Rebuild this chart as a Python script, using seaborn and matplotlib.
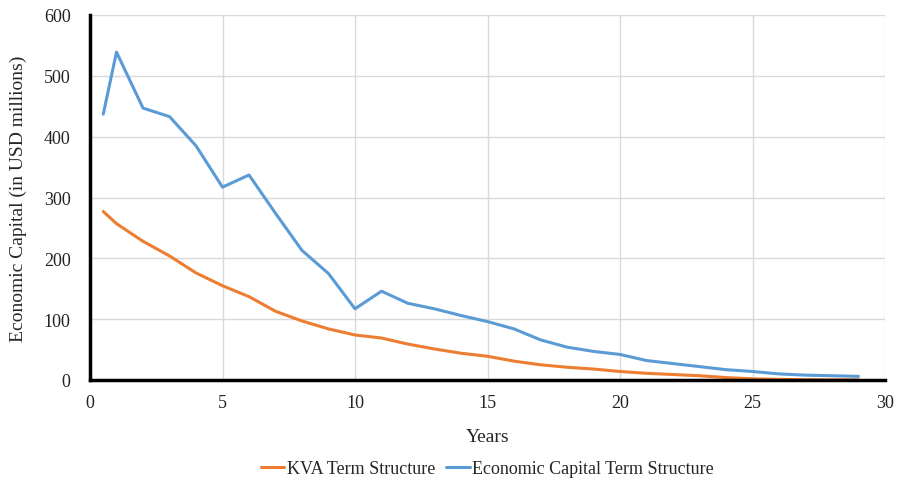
import numpy as np
import pandas as pd
import matplotlib
matplotlib.use("Agg")
import matplotlib.pyplot as plt
import seaborn as sns

# ── data ──
years = [0.5, 1, 2, 3, 4, 5, 6, 7, 8, 9, 10, 11, 12, 13, 14, 15, 16, 17, 18, 19,
         20, 21, 22, 23, 24, 25, 26, 27, 28, 29]
kva = [277, 257, 228, 204, 176, 155, 137, 113, 97, 84, 74, 69, 59, 51, 44, 39, 31, 25, 21, 18,
       14, 11, 9, 7, 4, 2, 1, 0.5, 0.3, 0.2]
econ_cap = [437, 539, 447, 433, 385, 317, 337, 274, 213, 175, 117, 146, 126, 117, 106, 96, 84, 66, 54, 47,
            42, 32, 27, 22, 17, 14, 10, 8, 7, 6]

SERIES = ["KVA Term Structure", "Economic Capital Term Structure"]
COLORS = ["#ED7D31", "#5B9BD5"]

df = pd.DataFrame({
    "Years": years * 2,
    "Value": kva + econ_cap,
    "Series": [SERIES[0]] * len(years) + [SERIES[1]] * len(years),
})

sns.set_style("white")
plt.rcParams["font.family"] = ["Liberation Serif", "DejaVu Serif"]

fig = plt.figure(figsize=(8.98, 4.85), dpi=100)
ax = fig.add_axes([90 / 898, 1 - 381 / 485, 795 / 898, 365 / 485])

sns.lineplot(data=df, x="Years", y="Value", hue="Series", hue_order=SERIES,
             palette=COLORS, linewidth=2.2, ax=ax)

ax.set_xlim(0, 30)
ax.set_ylim(0, 600)
ax.set_xticks(range(0, 31, 5))
ax.set_yticks(range(0, 601, 100))
ax.grid(True, color="#D9D9D9", linewidth=1)
ax.set_axisbelow(True)

for side in ["top", "right"]:
    ax.spines[side].set_visible(False)
for side in ["left", "bottom"]:
    ax.spines[side].set_color("black")
    ax.spines[side].set_linewidth(2.5)
    ax.spines[side].set_zorder(5)

ax.tick_params(axis="both", labelsize=13, length=0, colors="#222222")
ax.tick_params(axis="x", pad=10)
ax.tick_params(axis="y", pad=14)
ax.set_xlabel("Years", fontsize=14, labelpad=12)
ax.set_ylabel("Economic Capital (in USD millions)", fontsize=14, labelpad=12)

ax.legend(loc="upper center", bbox_to_anchor=(0.5, -0.175), ncol=2, frameon=False,
          fontsize=13, handlelength=1.3, handletextpad=0.15, columnspacing=0.6)

fig.savefig("out.png", dpi=100)
